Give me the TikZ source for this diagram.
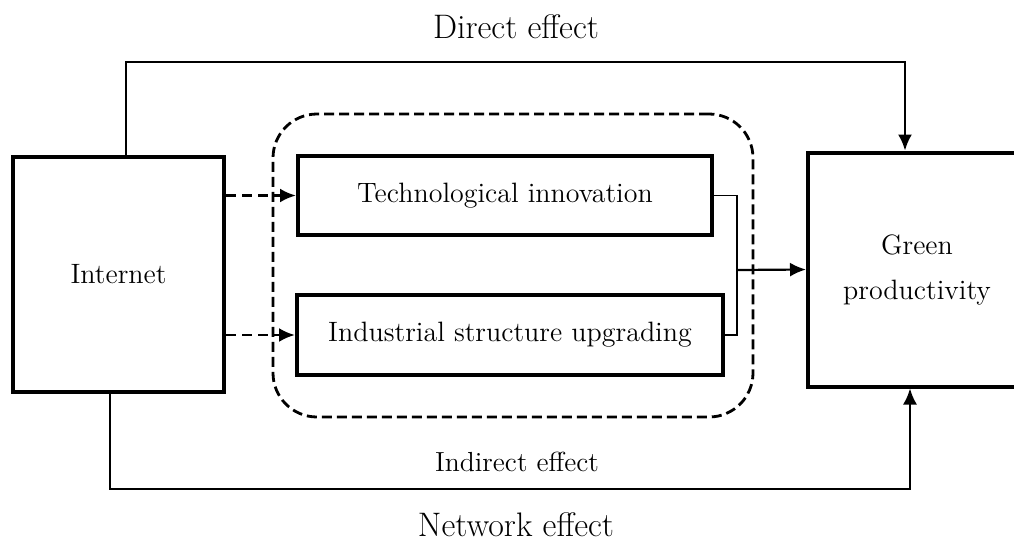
\documentclass[tikz,border=0pt]{standalone}
\usetikzlibrary{arrows.meta}
\begin{document}
\begin{tikzpicture}[x=0.5pt,y=-0.5pt,
    box/.style={draw, line width=2pt, inner sep=0pt, align=center,
      font=\fontsize{14}{22.5}\selectfont},
    arrowline/.style={line width=1.1pt, -{Latex[length=8pt,width=7pt]}},
    dasharrow/.style={line width=1.3pt, dash pattern=on 5pt off 3pt,
      -{Latex[length=8pt,width=7pt]}},
    effectlabel/.style={inner sep=0pt, font=\fontsize{17}{20}\selectfont}]
  \useasboundingbox (0,0) rectangle (1014,541);
  \clip (0,0) rectangle (1014,541);

  % Boxes
  \node[box, minimum width=105.5pt, minimum height=117.5pt] (internet) at (118.5,274.5) {Internet};
  \node[box, minimum width=109pt, minimum height=117pt] (green) at (917,269.5) {Green\\productivity};
  \node[box, minimum width=207pt, minimum height=39.5pt] (tech) at (505,195.5) {Technological innovation};
  \node[box, minimum width=213pt, minimum height=40pt] (indus) at (510,335) {Industrial structure upgrading};

  % Dashed frame round the mediators
  \node[draw, line width=1.4pt, dash pattern=on 5pt off 2.5pt, rounded corners=22pt,
    minimum width=240pt, minimum height=151.5pt] (mediators) at (513,265.5) {};

  % Direct effect path
  \coordinate (dtop) at (126,62);
  \coordinate (dright) at (905,62);
  \draw[arrowline] (dtop |- internet.north) -- (dtop) -- (dright) -- (dright |- green.north);
  \node[effectlabel] (direct) at (516,27) {Direct effect};

  % Network effect path
  \coordinate (nbot) at (110,489);
  \coordinate (nright) at (910,489);
  \draw[arrowline] (nbot |- internet.south) -- (nbot) -- (nright) -- (nright |- green.south);
  \node[effectlabel] (network) at (516,525) {Network effect};

  % Indirect effect: dashed arrows into the mediators
  \draw[dasharrow] (internet.east |- tech.west) -- (tech.west);
  \draw[dasharrow] (internet.east |- indus.west) -- (indus.west);

  % Joining bracket and arrow to green productivity
  \coordinate (joint) at (737,270);
  \draw[line width=0.8pt] (tech.east) -- (joint |- tech.east) -- (joint |- indus.east) -- (indus.east);
  \draw[arrowline] (joint) -- (green.west);
  \node[font=\fontsize{13.8}{16}\selectfont] (indirect) at (517,462) {Indirect effect};
\end{tikzpicture}
\end{document}
